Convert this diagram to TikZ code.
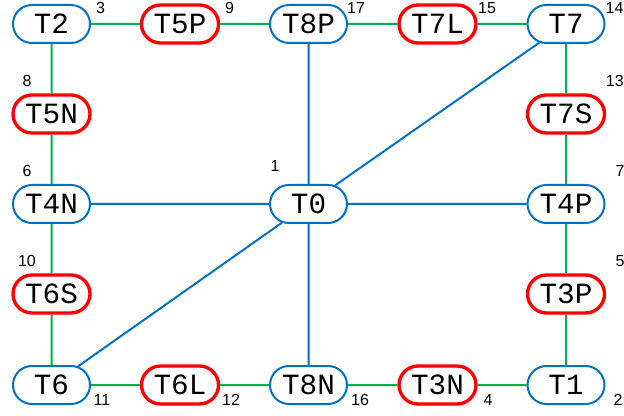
\documentclass[tikz,border=0pt]{standalone}
\usepackage{fontspec}
\setmainfont{Liberation Sans}
\newfontfamily\monofam{Liberation Mono}
\usetikzlibrary{shapes.misc}
\definecolor{nblue}{RGB}{0,112,192}
\definecolor{ngreen}{RGB}{0,176,80}
\definecolor{nred}{RGB}{255,0,0}
\tikzset{
  tnode/.style={rounded rectangle, minimum width=57.75pt, minimum height=28.5pt, inner sep=0pt,
    fill=white, font=\monofam\fontsize{22}{22}\selectfont},
  bnode/.style={tnode, draw=nblue, line width=1.5pt},
  rnode/.style={tnode, draw=nred, line width=2.5pt},
  gline/.style={draw=ngreen, line width=1.5pt},
  bline/.style={draw=nblue, line width=1.5pt},
  num/.style={font=\fontsize{12}{12}\selectfont, inner sep=0pt}
}
\begin{document}
\begin{tikzpicture}[x=0.75pt,y=-0.75pt]
\useasboundingbox (0,0) rectangle (624,416);
% nodes
\node[bnode] (T2)  at (51.5,24) {T2};
\node[rnode] (T5P) at (180,24) {T5P};
\node[bnode] (T8P) at (308.5,24) {T8P};
\node[rnode] (T7L) at (437.5,24) {T7L};
\node[bnode] (T7)  at (566,24) {T7};
\node[rnode] (T5N) at (51.5,114) {T5N};
\node[rnode] (T7S) at (566,114) {T7S};
\node[bnode] (T4N) at (51.5,204) {T4N};
\node[bnode] (T0)  at (308.5,204) {T0};
\node[bnode] (T4P) at (566,204) {T4P};
\node[rnode] (T6S) at (51.5,294) {T6S};
\node[rnode] (T3P) at (566,294) {T3P};
\node[bnode] (T6)  at (51.5,385) {T6};
\node[rnode] (T6L) at (180,385) {T6L};
\node[bnode] (T8N) at (308.5,385) {T8N};
\node[rnode] (T3N) at (437.5,385) {T3N};
\node[bnode] (T1)  at (566,385) {T1};
% edges
\path[gline] (T2) -- (T5P);
\path[gline] (T5P) -- (T8P);
\path[gline] (T8P) -- (T7L);
\path[gline] (T7L) -- (T7);
\path[gline] (T2) -- (T5N);
\path[gline] (T5N) -- (T4N);
\path[gline] (T4N) -- (T6S);
\path[gline] (T6S) -- (T6);
\path[gline] (T6) -- (T6L);
\path[gline] (T6L) -- (T8N);
\path[gline] (T8N) -- (T3N);
\path[gline] (T3N) -- (T1);
\path[gline] (T7) -- (T7S);
\path[gline] (T7S) -- (T4P);
\path[gline] (T4P) -- (T3P);
\path[gline] (T3P) -- (T1);
\path[bline] (T0) -- (T8P);
\path[bline] (T0) -- (T4N);
\path[bline] (T0) -- (T4P);
\path[bline] (T0) -- (T8N);
\path[bline] (T0) -- (T7);
\path[bline] (T0) -- (T6);
% numbers
\node[num] (n3)  at (100.5,8) {3};
\node[num] (n9)  at (229.5,8) {9};
\node[num] (n17) at (356,8) {17};
\node[num] (n15) at (487,8) {15};
\node[num] (n14) at (614.5,8) {14};
\node[num] (n8)  at (27,81) {8};
\node[num,anchor=east] (n13) at (624,81) {13};
\node[num] (n6)  at (27,171) {6};
\node[num] (n1)  at (275,166) {1};
\node[num] (n7)  at (620,171) {7};
\node[num] (n10) at (27,261) {10};
\node[num] (n5)  at (620,261) {5};
\node[num] (n11) at (102,400) {11};
\node[num] (n12) at (231,400) {12};
\node[num] (n16) at (360,400) {16};
\node[num] (n4)  at (488,400) {4};
\node[num] (n2)  at (618,400) {2};
\end{tikzpicture}
\end{document}
